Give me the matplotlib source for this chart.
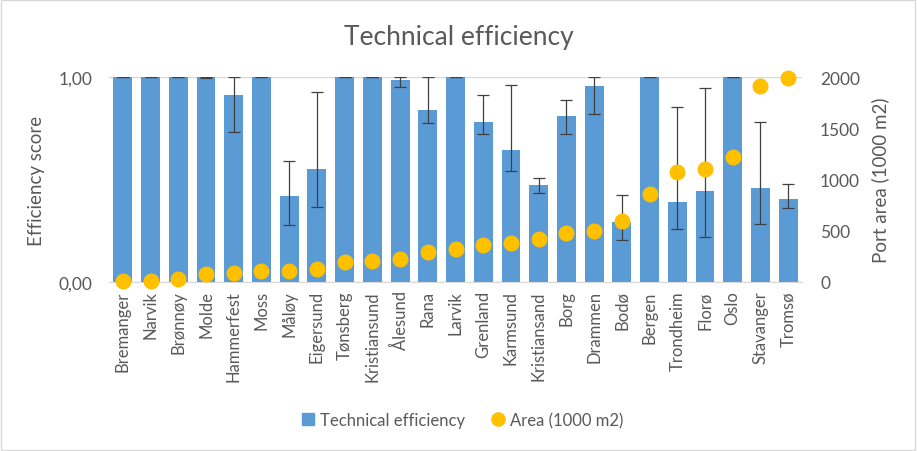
import numpy as np
import matplotlib.pyplot as plt
from matplotlib.lines import Line2D

plt.rcParams['font.family'] = ['Lato', 'DejaVu Sans']

ports = ["Bremanger", "Narvik", "Brønnøy", "Molde", "Hammerfest", "Moss", "Måløy",
         "Eigersund", "Tønsberg", "Kristiansund", "Ålesund", "Rana", "Larvik",
         "Grenland", "Karmsund", "Kristiansand", "Borg", "Drammen", "Bodø", "Bergen",
         "Trondheim", "Florø", "Oslo", "Stavanger", "Tromsø"]
efficiency = [1.0, 1.0, 1.0, 1.0, 0.912, 1.0, 0.421, 0.551, 1.0, 1.0, 0.985, 0.839, 1.0,
              0.78, 0.644, 0.473, 0.81, 0.956, 0.293, 1.0, 0.39, 0.444, 1.0, 0.459, 0.405]
err_upper = [1.0, 1.0, 1.0, 1.0, 1.0, 1.0, 0.589, 0.925, 1.0, 1.0, 1.0, 1.0, 1.0,
             0.912, 0.961, 0.507, 0.886, 1.0, 0.423, 1.0, 0.855, 0.948, 1.0, 0.78, 0.477]
err_lower = [1.0, 1.0, 1.0, 0.995, 0.73, 1.0, 0.278, 0.366, 1.0, 1.0, 0.95, 0.774, 1.0,
             0.72, 0.54, 0.433, 0.72, 0.818, 0.203, 1.0, 0.257, 0.218, 1.0, 0.283, 0.36]
area = [5, 13, 32, 78, 91, 107, 107, 127, 195, 208, 228, 293, 325, 361, 384, 420,
        478, 501, 598, 859, 1073, 1102, 1223, 1915, 1990]

bar_col = '#5B9BD5'
dot_col = '#FFC000'
txt = '#595959'

x = np.arange(len(ports))
eff = np.array(efficiency)
yerr = [eff - np.array(err_lower), np.array(err_upper) - eff]

fig = plt.figure(figsize=(9.17, 4.52), dpi=100)
ax = fig.add_axes([0.1189, 0.3739, 0.7557, 0.4535])
ax2 = ax.twinx()

ax.bar(x, eff, width=0.68, color=bar_col, zorder=2)
ax.errorbar(x, eff, yerr=yerr, fmt='none', ecolor='#404040', elinewidth=0.9,
            capsize=4, capthick=0.9, zorder=3)
ax2.scatter(x, area, s=110, color=dot_col, zorder=4, clip_on=False)

ax.set_xlim(-0.5, len(ports) - 0.5)
ax.set_ylim(0, 1)
ax2.set_ylim(0, 2000)
ax.set_yticks([0, 1])
ax.set_yticklabels(['0,00', '1,00'])
ax2.set_yticks([0, 500, 1000, 1500, 2000])
ax.yaxis.grid(True, color='#D9D9D9', linewidth=1, zorder=0)
ax.set_axisbelow(True)

ax.set_xticks(x)
ax.set_xticklabels(ports, rotation=90)
for a in (ax, ax2):
    for s in a.spines.values():
        s.set_visible(False)
    a.tick_params(length=0, colors=txt, labelsize=12)
ax.tick_params(axis='y', labelsize=12.5)
ax2.tick_params(axis='y', labelsize=12.5)
ax.spines['bottom'].set_visible(True)
ax.spines['bottom'].set_color('#D9D9D9')
ax.tick_params(axis='y', pad=12)
ax.tick_params(axis='x', pad=6)
ax2.tick_params(axis='y', pad=13)

ax.set_ylabel('Efficiency score', color=txt, fontsize=13.5, labelpad=10)
ax2.set_ylabel('Port area (1000 m2)', color=txt, fontsize=13.5, labelpad=8)
fig.text(0.5, 0.918, 'Technical efficiency', ha='center', va='center',
         color=txt, fontsize=19)

handles = [Line2D([], [], marker='s', linestyle='none', color=bar_col, markersize=8),
           Line2D([], [], marker='o', linestyle='none', color=dot_col, markersize=9.5)]
fig.legend(handles, ['Technical efficiency', 'Area (1000 m2)'], loc='center',
           bbox_to_anchor=(0.504, 0.068), ncol=2, frameon=False, fontsize=12,
           labelcolor=txt, handlelength=0.8, handletextpad=0.3, columnspacing=1.6)

fig.add_artist(plt.Rectangle((0.001, 0.002), 0.997, 0.995, transform=fig.transFigure,
                             fill=False, edgecolor='#D9D9D9', linewidth=1))

fig.savefig('out.png', dpi=100)
